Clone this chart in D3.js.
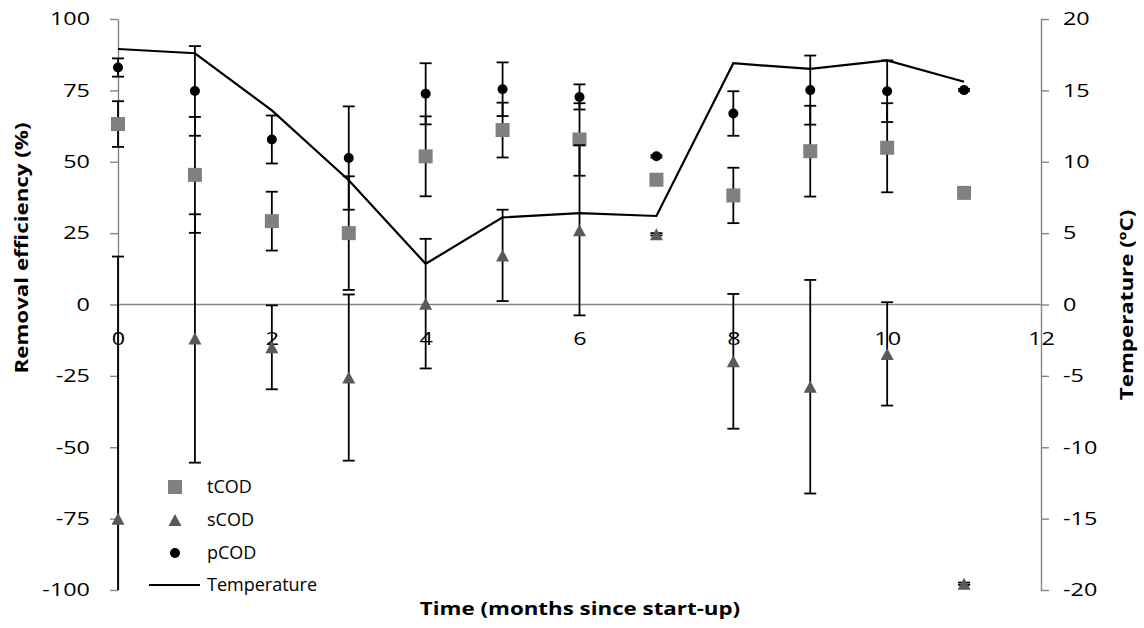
<!DOCTYPE html>
<html>
<head>
<meta charset="utf-8">
<script src="https://cdn.jsdelivr.net/npm/d3@7"></script>
<style>
  html, body { margin: 0; padding: 0; background: #fff; }
  svg { display: block; }
  text { font-family: "Open Sans", Lato, sans-serif; fill: #000; }
</style>
</head>
<body>
<svg id="chart" width="1144" height="628"></svg>
<script>
// months since start-up
const months = [0, 1, 2, 3, 4, 5, 6, 7, 8, 9, 10, 11];

// removal efficiency (%) with error (+/-)
const tCOD    = [63.2, 45.4, 29.2, 25.0, 51.9, 61.1, 57.8, 43.7, 38.2, 53.7, 54.9, 39.1];
const tCODErr = [8.0, 20.3, 10.3, 19.9, 14.0, 9.6, 12.7, 0, 9.7, 15.9, 15.6, 0];
const sCOD    = [-75.0, -11.9, -15.0, -25.6, 0.3, 17.2, 26.0, 24.6, -19.9, -28.8, -17.3, -97.8];
const sCODErr = [91.8, 43.5, 14.7, 29.1, 22.7, 16.0, 29.8, 0.4, 23.6, 37.4, 18.1, 0.4];
const pCOD    = [83.0, 74.8, 57.8, 51.3, 73.8, 75.4, 72.7, 51.9, 66.9, 75.1, 74.7, 75.1];
const pCODErr = [3.2, 15.7, 8.4, 18.1, 10.7, 9.4, 4.4, 0.4, 7.8, 12.1, 10.8, 0.4];

// temperature (°C), secondary axis
const temperature = [17.9, 17.6, 13.6, 8.7, 2.85, 6.1, 6.4, 6.2, 16.9, 16.5, 17.1, 15.6];

// axis ticks
const xTicks = [0, 2, 4, 6, 8, 10, 12];
const leftTicks = [-100, -75, -50, -25, 0, 25, 50, 75, 100];
const rightTicks = [-20, -15, -10, -5, 0, 5, 10, 15, 20];

(function () {
  const svg = d3.select('#chart');
  const pl = 118, pr = 1041, pt = 19, pb = 590;
  const axisGrey = '#868686';
  const plain = d => String(d); // hyphen minus, like the original
  const tickStretch = 1.3, titleStretch = 1.24;

  const x = d3.scaleLinear().domain([0, 12]).range([pl, pr]);
  const yL = d3.scaleLinear().domain([-100, 100]).range([pb, pt]);
  const yR = d3.scaleLinear().domain([-20, 20]).range([pb, pt]);

  svg.append('clipPath').attr('id', 'plot-clip')
    .append('rect').attr('x', pl - 20).attr('y', pt).attr('width', pr - pl + 40).attr('height', pb - pt);

  // left axis
  const gL = svg.append('g').attr('transform', `translate(${pl},0)`)
    .call(d3.axisLeft(yL).tickValues(leftTicks).tickFormat(plain).tickSize(8).tickSizeOuter(0).tickPadding(20));
  // right axis
  const gR = svg.append('g').attr('transform', `translate(${pr},0)`)
    .call(d3.axisRight(yR).tickValues(rightTicks).tickFormat(plain).tickSize(8).tickSizeOuter(0).tickPadding(14));
  // x axis at zero
  const gX = svg.append('g').attr('transform', `translate(0,${yL(0)})`)
    .call(d3.axisBottom(x).tickValues(xTicks).tickFormat(plain).tickSize(0).tickSizeOuter(0).tickPadding(28));

  [gL, gR, gX].forEach(g => {
    g.select('.domain').attr('stroke', axisGrey).attr('stroke-width', 1.4);
    g.selectAll('.tick line').attr('stroke', axisGrey).attr('stroke-width', 1.4);
    // the original's labels are wide and short: stretch them horizontally
    g.selectAll('.tick text').each(function () {
      const t = d3.select(this);
      const tx = +t.attr('x') || 0, ty = +t.attr('y') || 0;
      t.attr('x', 0).attr('y', 0)
        .attr('transform', `translate(${tx},${ty}) scale(${tickStretch},1)`)
        .attr('font-size', 18).attr('font-family', '"Open Sans", sans-serif').attr('fill', '#000');
    });
  });
  gX.select('.domain').attr('d', `M${pl},0H${pr}`);

  // axis titles
  svg.append('text')
    .attr('transform', `translate(28,248) rotate(-90) scale(${titleStretch},1)`)
    .attr('text-anchor', 'middle').attr('font-size', 18).attr('font-weight', 700)
    .text('Removal efficiency (%)');
  svg.append('text')
    .attr('transform', `translate(1133,305) rotate(-90) scale(${titleStretch},1)`)
    .attr('text-anchor', 'middle').attr('font-size', 18).attr('font-weight', 700)
    .text('Temperature (ºC)');
  svg.append('text')
    .attr('transform', `translate(580,615) scale(${titleStretch},1)`)
    .attr('text-anchor', 'middle').attr('font-size', 18).attr('font-weight', 700)
    .text('Time (months since start-up)');

  const plot = svg.append('g').attr('clip-path', 'url(#plot-clip)');

  function errorBars(vals, errs) {
    const g = plot.append('g').attr('stroke', '#000').attr('stroke-width', 1.8).attr('fill', 'none');
    months.forEach((m, i) => {
      if (!errs[i]) return;
      const cx = x(m), y1 = yL(vals[i] + errs[i]), y2 = yL(vals[i] - errs[i]);
      g.append('line').attr('x1', cx).attr('x2', cx).attr('y1', y1).attr('y2', y2);
      [y1, y2].forEach(yy => {
        g.append('line').attr('x1', cx - 6).attr('x2', cx + 6).attr('y1', yy).attr('y2', yy);
      });
    });
  }

  const triPath = (cx, cy, w, h) => `M${cx},${cy - h / 2}L${cx + w / 2},${cy + h / 2}L${cx - w / 2},${cy + h / 2}Z`;

  // tCOD
  errorBars(tCOD, tCODErr);
  plot.append('g').selectAll('rect').data(months).join('rect')
    .attr('x', d => x(d) - 7).attr('y', (d, i) => yL(tCOD[i]) - 7)
    .attr('width', 14).attr('height', 14).attr('fill', '#808080');

  // sCOD
  errorBars(sCOD, sCODErr);
  plot.append('g').selectAll('path').data(months).join('path')
    .attr('d', (d, i) => triPath(x(d), yL(sCOD[i]), 13, 12))
    .attr('fill', '#595959');

  // pCOD
  errorBars(pCOD, pCODErr);
  plot.append('g').selectAll('circle').data(months).join('circle')
    .attr('cx', d => x(d)).attr('cy', (d, i) => yL(pCOD[i]))
    .attr('r', 5).attr('fill', '#000');

  // temperature line
  const line = d3.line().x(d => x(d)).y((d, i) => yR(temperature[i]));
  svg.append('path').datum(months)
    .attr('d', line).attr('fill', 'none').attr('stroke', '#000').attr('stroke-width', 2.2);

  // legend
  const leg = svg.append('g');
  const legItems = ['tCOD', 'sCOD', 'pCOD', 'Temperature'];
  const legY = [487, 520, 553, 585];
  leg.append('rect').attr('x', 175 - 7).attr('y', legY[0] - 7).attr('width', 14).attr('height', 14).attr('fill', '#808080');
  leg.append('path').attr('d', triPath(175, legY[1], 13, 12)).attr('fill', '#595959');
  leg.append('circle').attr('cx', 175).attr('cy', legY[2]).attr('r', 5).attr('fill', '#000');
  leg.append('line').attr('x1', 149).attr('x2', 200).attr('y1', legY[3]).attr('y2', legY[3])
    .attr('stroke', '#000').attr('stroke-width', 2.2);
  leg.selectAll('text').data(legItems).join('text')
    .attr('x', 207).attr('y', (d, i) => legY[i]).attr('dy', '0.35em')
    .attr('font-size', 18)
    .text(d => d);
})();
</script>
</body>
</html>
